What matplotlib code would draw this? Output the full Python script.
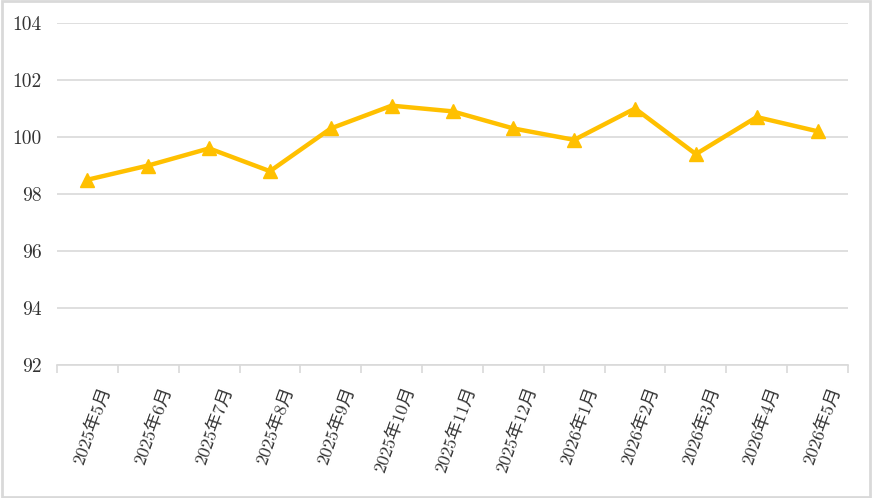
import matplotlib
matplotlib.use("Agg")
import matplotlib.pyplot as plt
from matplotlib.patches import Rectangle
from matplotlib.transforms import ScaledTranslation

plt.rcParams['font.family'] = ['cmr10', 'Noto Sans CJK SC', 'DejaVu Sans']
plt.rcParams['axes.formatter.use_mathtext'] = True

categories = ["2025年5月", "2025年6月", "2025年7月", "2025年8月", "2025年9月", "2025年10月",
              "2025年11月", "2025年12月", "2026年1月", "2026年2月", "2026年3月", "2026年4月", "2026年5月"]
values = [98.5, 99.0, 99.6, 98.8, 100.3, 101.1, 100.9, 100.3, 99.9, 101.0, 99.4, 100.7, 100.2]
yticks = [92, 94, 96, 98, 100, 102, 104]

fig = plt.figure(figsize=(8.72, 4.98), dpi=100)
ax = fig.add_axes([57/872, 1-365/498, (848-57)/872, (365-23)/498])

x = list(range(len(categories)))
ax.plot(x, values, color='#FFC000', lw=3.2, marker='^', markersize=10, zorder=3)

ax.set_xlim(-0.5, len(categories)-0.5)
ax.set_ylim(92, 104)
ax.set_yticks(yticks)
ax.set_yticklabels([str(v) for v in yticks], fontsize=14, color='#333333')
ax.yaxis.grid(True, color='#D9D9D9', lw=1.2)
ax.set_axisbelow(True)
ax.tick_params(axis='y', length=0, pad=11)

ax.set_xticks([i - 0.5 for i in range(len(categories)+1)])
ax.set_xticklabels([])
ax.set_xticks(x, minor=True)
ax.set_xticklabels(categories, minor=True, rotation=70, ha='right', va='top',
                   rotation_mode='anchor', fontsize=13, color='#333333')
ax.tick_params(axis='x', which='major', length=6, color='#D9D9D9', width=1.2)
ax.tick_params(axis='x', which='minor', length=0, pad=14)
off = ScaledTranslation(11/100, 0, fig.dpi_scale_trans)
for lbl in ax.get_xticklabels(minor=True):
    lbl.set_transform(lbl.get_transform() + off)

for s in ['left', 'right', 'top']:
    ax.spines[s].set_visible(False)
ax.spines['bottom'].set_color('#D9D9D9')
ax.spines['bottom'].set_linewidth(1.2)

fig.patches.append(Rectangle((0.002, 0.003), 0.996, 0.994, transform=fig.transFigure,
                             fill=False, edgecolor='#D9D9D9', lw=2))

fig.savefig('out.png', dpi=100)
